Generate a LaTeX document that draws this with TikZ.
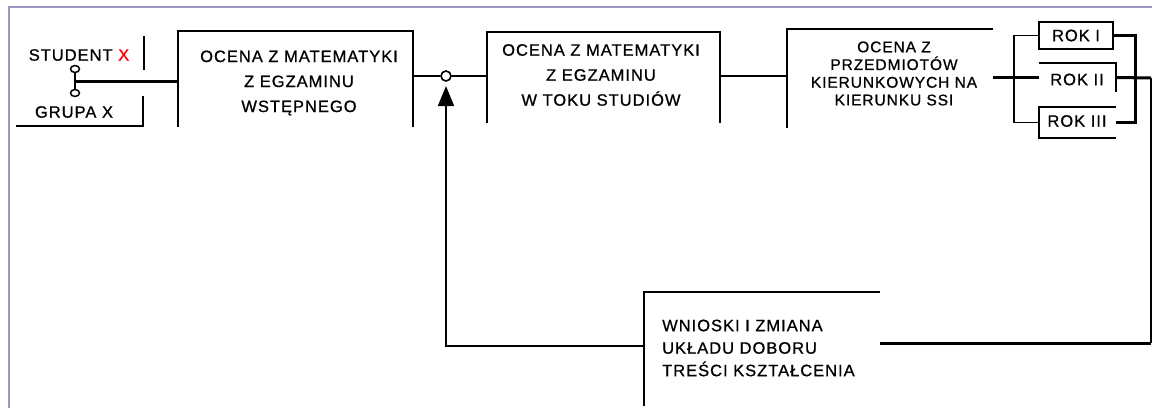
\documentclass[tikz,border=0pt]{standalone}
\usepackage{fontspec}
\setmainfont{Liberation Sans}[LetterSpace=6,FakeBold=0.8]
\usetikzlibrary{arrows.meta,shapes.geometric}
\definecolor{framec}{RGB}{152,152,192}
\begin{document}
\begin{tikzpicture}[x=1pt,y=-1pt,
  frm/.style={rectangle,draw=none,inner sep=0pt},
  txt/.style={inner sep=0pt,align=center,font=\fontsize{16.5}{25}\selectfont},
  txtb/.style={inner sep=0pt,align=center,font=\fontsize{15.5}{17.7}\selectfont},
  txtw/.style={inner sep=0pt,align=left,anchor=west,font=\fontsize{16.5}{22.5}\selectfont},
  ln/.style={line width=1.6pt,black},
  thk/.style={line width=3pt,black},
  sw/.style={ellipse,draw,fill=white,line width=1.5pt,inner sep=0pt,minimum width=9pt,minimum height=7pt}]
\useasboundingbox[fill=white] (0,0) rectangle (1152,408);
% page frame
\draw[framec,line width=2pt] (9,408) -- (9,7) -- (1152,7);

% source labels
\node[frm,minimum width=128pt,minimum height=34pt] (sfr) at (80,53) {};
\node[txt] (st) at (79,55) {STUDENT \textcolor{red}{X}};
\draw[ln] (sfr.north east) -- (sfr.south east);
\node[frm,minimum width=127pt,minimum height=30pt] (gfr) at (79.5,111) {};
\node[txt] (gr) at (74,112) {GRUPA X};
\draw[ln] (gfr.north east) -- (gfr.south east) -- (gfr.south west);

% box 1
\node[frm,minimum width=235pt,minimum height=96pt] (b1) at (295.5,79) {};
\node[txt] (t1) at (299,83) {OCENA Z MATEMATYKI\\Z EGZAMINU\\WSTĘPNEGO};
\draw[ln] (b1.south west) -- (b1.north west) -- (b1.north east) -- (b1.south east);

% box 2
\node[frm,minimum width=233pt,minimum height=91pt] (b2) at (603.5,77.5) {};
\node[txt] (t2) at (601,75) {OCENA Z MATEMATYKI\\Z EGZAMINU\\W TOKU STUDIÓW};
\draw[ln] (b2.south west) -- (b2.north west) -- (b2.north east) -- (b2.south east);

% box 3
\node[frm,minimum width=206pt,minimum height=99pt] (b3) at (890,78.5) {};
\node[txtb] (t3) at (894,73.5) {OCENA Z\\PRZEDMIOTÓW\\KIERUNKOWYCH NA\\KIERUNKU SSI};
\draw[ln] (b3.south west) -- (b3.north west) -- (b3.north east);

% ROK boxes
\node[frm,minimum width=74pt,minimum height=27pt] (r1) at (1076,35.5) {};
\node[txt] (tr1) at (1076,35.5) {ROK I};
\draw[ln] (r1.south west) rectangle (r1.north east);
\node[frm,minimum width=77pt,minimum height=29pt] (r2) at (1077.5,77.5) {};
\node[txt] (tr2) at (1077,79.5) {ROK II};
\draw[ln] (r2.north west) -- (r2.north east) -- (r2.south east);
\node[frm,minimum width=77pt,minimum height=31pt] (r3) at (1077.5,122.5) {};
\node[txt] (tr3) at (1077,121) {ROK III};
\draw[ln] (r3.north east) -- (r3.north west) -- (r3.south west) -- (r3.south east);

% conclusions box
\node[frm,minimum width=236pt,minimum height=114pt] (w) at (762,349) {};
\node[txtw] (tw) at (662,348) {WNIOSKI I ZMIANA\\UKŁADU DOBORU\\TREŚCI KSZTAŁCENIA};
\draw[ln] (w.south west) -- (w.north west) -- (w.north east);

% switch and junction
\coordinate (sj) at (75,81);
\coordinate (ta) at (446,86);
\coordinate (fb) at (446,346);

% connectors
\draw[ln] (75,69) -- (75,93);
\node[sw] (sw1) at (75,69) {};
\node[sw] (sw2) at (75,93) {};
\draw[thk] (sj) -- (sj -| b1.west);
\node[circle,draw,fill=white,line width=1.6pt,inner sep=0pt,minimum size=10pt] (jc) at (446,76) {};
\draw[ln] (b1.east |- jc) -- (jc);
\draw[ln] (jc) -- (jc -| b2.west);
\draw[ln,-{Triangle[width=16pt,length=20pt]}] (fb -| w.west) -- (fb) -- (ta);
\draw[ln] (b2.east |- jc) -- (b3.west |- jc);
\draw[thk] (b3.east |- r2) -- (r2.west);
\coordinate (bx) at (1014,78);
\draw[ln] (r1.west) -| (bx) |- (r3.west);
\coordinate (rx) at (1135,78);
\draw[thk] (r1.east) -| (rx) |- (r3.east);
\coordinate (rc) at (1151,78);
\coordinate (rd) at (1151,343);
\draw[thk] (r2.east) -- (rc);
\draw[ln] (rc) -- (rd);
\draw[thk] (rd) -- (rd -| w.east);
\end{tikzpicture}
\end{document}
